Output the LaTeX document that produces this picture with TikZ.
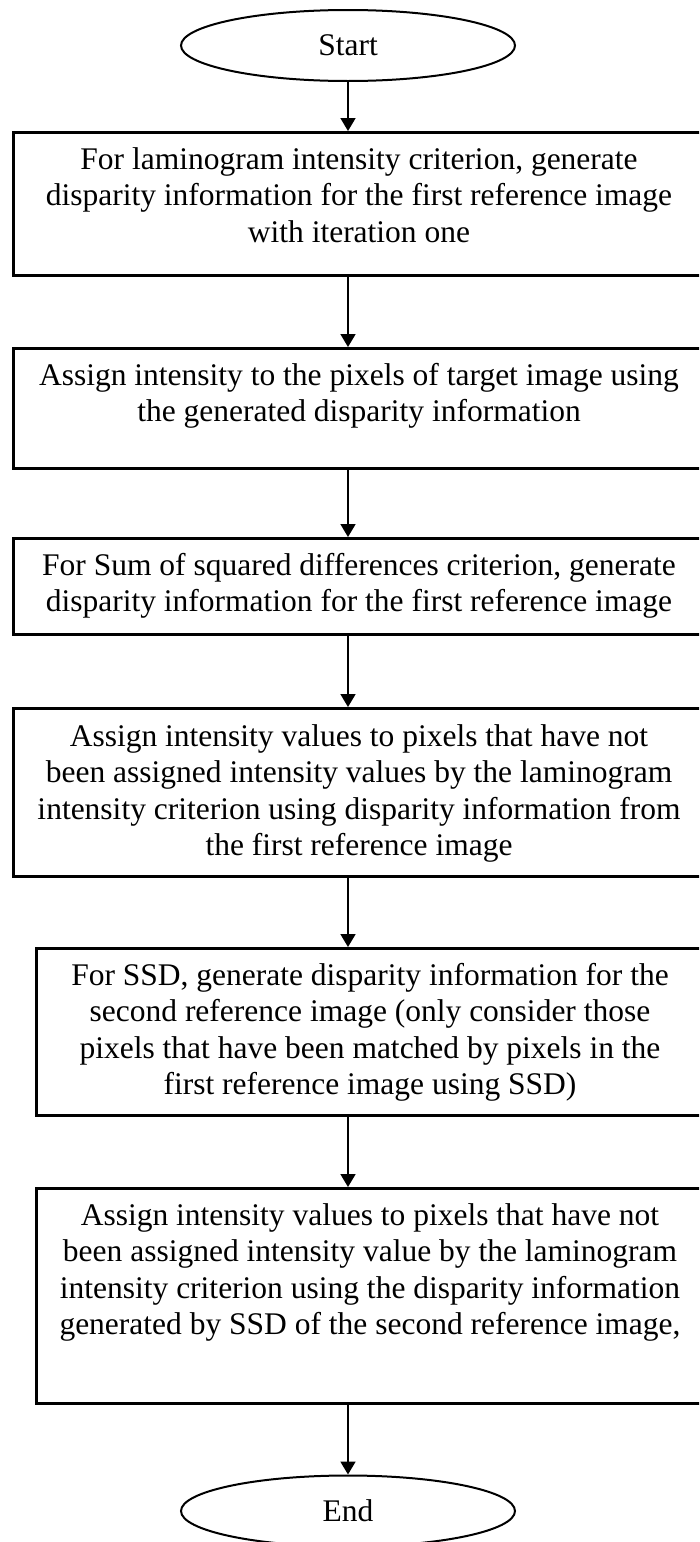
\documentclass[tikz,border=0pt]{standalone}
\usepackage{fontspec}
\setmainfont{Liberation Serif}
\usetikzlibrary{shapes.geometric,arrows.meta}

\tikzset{
  terminal/.style={draw, ellipse, line width=2pt, minimum width=334pt,
    minimum height=71pt, inner sep=0pt,
    font=\fontsize{31.5}{36.5}\selectfont},
  procbox/.style={draw, rectangle, line width=2.6pt, inner sep=0pt,
    anchor=north west},
  boxtext/.style={anchor=base, inner sep=0pt},
  flow/.style={line width=1.8pt, -{Triangle[length=13pt,width=15pt]}}
}

% multi-line centred text whose reference point is the first baseline
\newcommand{\steptext}[1]{\parbox[t]{700pt}{\centering\fontsize{31.5}{36.5}\selectfont #1}}

\begin{document}
\begin{tikzpicture}[x=1pt, y=-1pt]
  \useasboundingbox (0,0) rectangle (699,1542);
  \clip (0,0) rectangle (699,1542);

  % terminals
  \node[terminal] (start) at (348,45.5) {Start};
  \node[terminal] (end)   at (348,1511) {End};

  % process boxes
  \node[procbox, minimum width=716pt, minimum height=143pt] (b1) at (12,131) {};
  \node[procbox, minimum width=716pt, minimum height=120pt] (b2) at (12,347) {};
  \node[procbox, minimum width=716pt, minimum height=96pt]  (b3) at (12,537) {};
  \node[procbox, minimum width=716pt, minimum height=168pt] (b4) at (12,707) {};
  \node[procbox, minimum width=690pt, minimum height=167pt] (b5) at (35,947) {};
  \node[procbox, minimum width=690pt, minimum height=215pt] (b6) at (35,1187) {};

  % box texts
  \node[boxtext] (t1) at (359,169) {\steptext{For laminogram intensity criterion, generate\\
    disparity information for the first reference image\\with iteration one}};
  \node[boxtext] (t2) at (359,385) {\steptext{Assign intensity to the pixels of target image using\\
    the generated disparity information}};
  \node[boxtext] (t3) at (359,575) {\steptext{For Sum of squared differences criterion, generate\\
    disparity information for the first reference image}};
  \node[boxtext] (t4) at (359,746) {\steptext{Assign intensity values to pixels that have not\\
    been assigned intensity values by the laminogram\\
    intensity criterion using disparity information from\\the first reference image}};
  \node[boxtext] (t5) at (370,985) {\steptext{For SSD, generate disparity information for the\\
    second reference image (only consider those\\
    pixels that have been matched by pixels in the\\first reference image using SSD)}};
  \node[boxtext] (t6) at (370,1225) {\steptext{Assign intensity values to pixels that have not\\
    been assigned intensity value by the laminogram\\
    intensity criterion using the disparity information\\
    generated by SSD of the second reference image,}};

  % connectors
  \draw[flow] (start.south) -- (b1.north -| start.south);
  \draw[flow] (b1.south -| start.south) -- (b2.north -| start.south);
  \draw[flow] (b2.south -| start.south) -- (b3.north -| start.south);
  \draw[flow] (b3.south -| start.south) -- (b4.north -| start.south);
  \draw[flow] (b4.south -| start.south) -- (b5.north -| start.south);
  \draw[flow] (b5.south -| start.south) -- (b6.north -| start.south);
  \draw[flow] (b6.south -| start.south) -- (end.north);
\end{tikzpicture}
\end{document}
